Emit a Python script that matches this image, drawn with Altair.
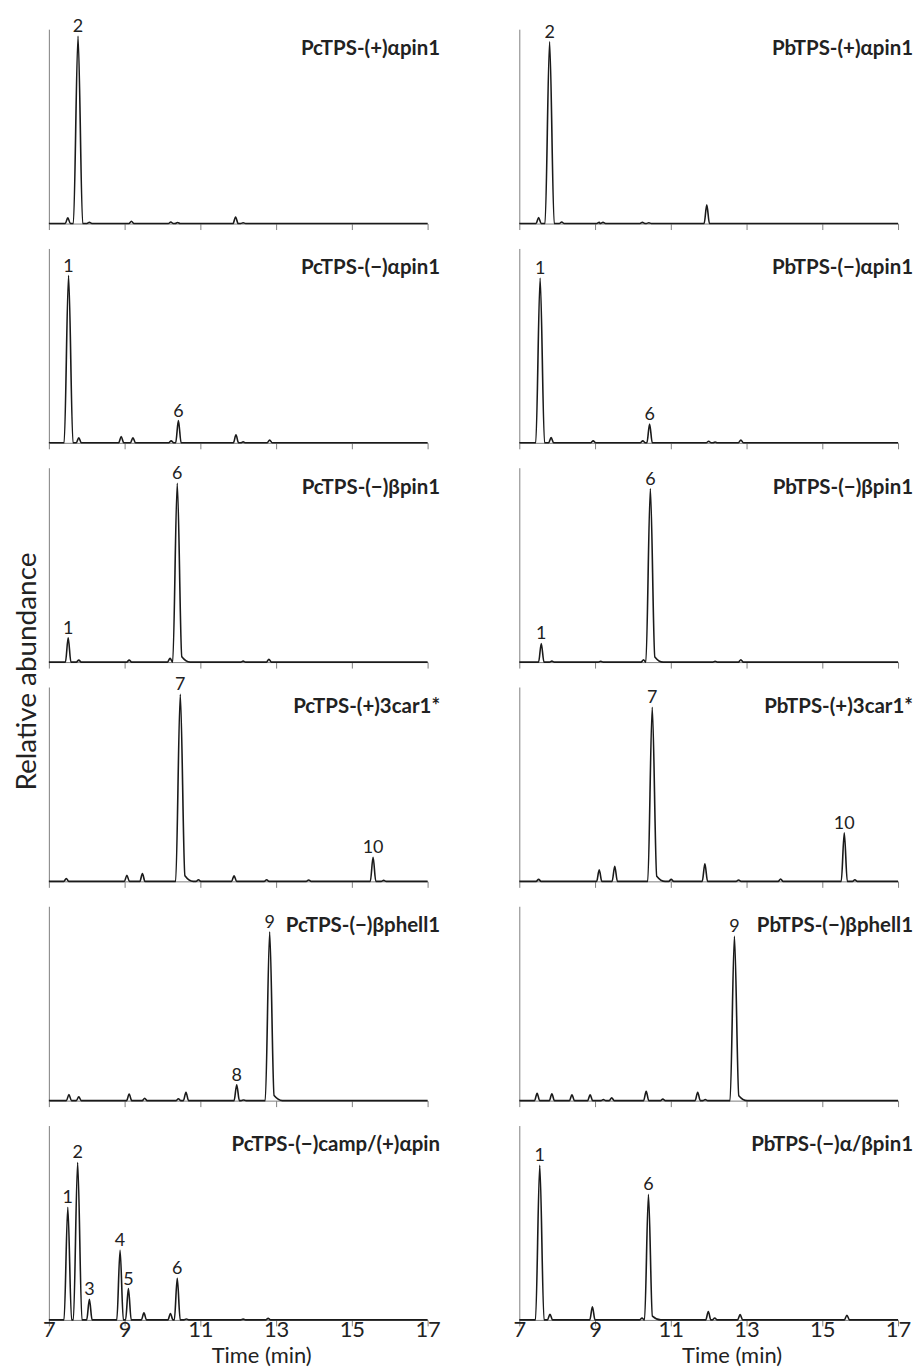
import altair as alt
import pandas as pd

# ---------------- data ----------------
PANEL_NAMES = [
    "PcTPS-(+)αpin1", "PbTPS-(+)αpin1",
    "PcTPS-(−)αpin1", "PbTPS-(−)αpin1",
    "PcTPS-(−)βpin1", "PbTPS-(−)βpin1",
    "PcTPS-(+)3car1*", "PbTPS-(+)3car1*",
    "PcTPS-(−)βphell1", "PbTPS-(−)βphell1",
    "PcTPS-(−)camp/(+)αpin", "PbTPS-(−)α/βpin1",
]

# retention time (min), relative height, peak label
PC_PLUS_APIN_T = [7.50, 7.77, 8.07, 9.18, 10.22, 10.40, 11.93, 12.13]
PC_PLUS_APIN_H = [0.030, 0.964, 0.006, 0.012, 0.008, 0.005, 0.034, 0.004]
PC_PLUS_APIN_L = ["", "2", "", "", "", "", "", ""]

PB_PLUS_APIN_T = [7.51, 7.80, 8.12, 9.11, 9.21, 10.25, 10.42, 11.95]
PB_PLUS_APIN_H = [0.031, 0.935, 0.008, 0.006, 0.006, 0.006, 0.004, 0.096]
PB_PLUS_APIN_L = ["", "2", "", "", "", "", "", ""]

PC_MINUS_APIN_T = [7.52, 7.79, 8.91, 9.22, 10.23, 10.42, 11.94, 12.13, 12.83]
PC_MINUS_APIN_H = [0.860, 0.026, 0.032, 0.026, 0.010, 0.114, 0.041, 0.005, 0.014]
PC_MINUS_APIN_L = ["1", "", "", "", "", "6", "", "", ""]

PB_MINUS_APIN_T = [7.55, 7.84, 8.95, 10.26, 10.44, 12.00, 12.17, 12.85]
PB_MINUS_APIN_H = [0.847, 0.027, 0.010, 0.010, 0.097, 0.008, 0.004, 0.014]
PB_MINUS_APIN_L = ["1", "", "", "", "6", "", "", ""]

PC_MINUS_BPIN_T = [7.51, 7.79, 9.12, 10.20, 10.39, 12.13, 12.81]
PC_MINUS_BPIN_H = [0.125, 0.010, 0.010, 0.020, 0.920, 0.005, 0.014]
PC_MINUS_BPIN_L = ["1", "", "", "", "6", "", ""]

PB_MINUS_BPIN_T = [7.58, 7.86, 9.15, 10.28, 10.46, 12.17, 12.85]
PB_MINUS_BPIN_H = [0.096, 0.005, 0.004, 0.012, 0.892, 0.004, 0.012]
PB_MINUS_BPIN_L = ["1", "", "", "", "6", "", ""]

PC_3CAR_T = [7.46, 9.06, 9.47, 10.47, 10.95, 11.89, 12.75, 13.86, 15.56, 15.84]
PC_3CAR_H = [0.014, 0.031, 0.040, 0.962, 0.008, 0.029, 0.008, 0.007, 0.124, 0.005]
PC_3CAR_L = ["", "", "", "7", "", "", "", "", "10", ""]

PB_3CAR_T = [7.51, 9.11, 9.52, 10.51, 11.01, 11.90, 12.79, 13.90, 15.58, 15.86]
PB_3CAR_H = [0.010, 0.060, 0.078, 0.896, 0.010, 0.090, 0.007, 0.012, 0.250, 0.008]
PB_3CAR_L = ["", "", "", "7", "", "", "", "", "10", ""]

PC_BPHELL_T = [7.53, 7.79, 9.12, 9.53, 10.42, 10.62, 11.96, 12.14, 12.83]
PC_BPHELL_H = [0.031, 0.020, 0.034, 0.012, 0.010, 0.043, 0.082, 0.003, 0.868]
PC_BPHELL_L = ["", "", "", "", "", "", "8", "", "9"]

PB_BPHELL_T = [7.47, 7.86, 8.39, 8.87, 9.22, 9.44, 10.35, 10.79, 11.71, 11.91, 12.68]
PB_BPHELL_H = [0.038, 0.035, 0.030, 0.030, 0.005, 0.014, 0.048, 0.008, 0.043, 0.005, 0.845]
PB_BPHELL_L = ["", "", "", "", "", "", "", "", "", "", "9"]

PC_CAMP_T = [7.50, 7.76, 8.07, 8.88, 9.10, 9.51, 10.21, 10.39, 10.63, 12.13, 12.79]
PC_CAMP_H = [0.580, 0.810, 0.106, 0.358, 0.161, 0.036, 0.033, 0.214, 0.005, 0.004, 0.008]
PC_CAMP_L = ["1", "2", "3", "4", "5", "", "", "6", "", "", ""]

PB_ABPIN_T = [7.54, 7.81, 8.93, 10.24, 10.41, 11.99, 12.16, 12.83, 15.65]
PB_ABPIN_H = [0.795, 0.029, 0.068, 0.010, 0.646, 0.043, 0.010, 0.027, 0.024]
PB_ABPIN_L = ["1", "", "", "", "6", "", "", "", ""]

TICKS = [7, 9, 11, 13, 15, 17]
X_MIN, X_MAX = 7.0, 17.0

SERIES = [
    (PC_PLUS_APIN_T, PC_PLUS_APIN_H, PC_PLUS_APIN_L),
    (PB_PLUS_APIN_T, PB_PLUS_APIN_H, PB_PLUS_APIN_L),
    (PC_MINUS_APIN_T, PC_MINUS_APIN_H, PC_MINUS_APIN_L),
    (PB_MINUS_APIN_T, PB_MINUS_APIN_H, PB_MINUS_APIN_L),
    (PC_MINUS_BPIN_T, PC_MINUS_BPIN_H, PC_MINUS_BPIN_L),
    (PB_MINUS_BPIN_T, PB_MINUS_BPIN_H, PB_MINUS_BPIN_L),
    (PC_3CAR_T, PC_3CAR_H, PC_3CAR_L),
    (PB_3CAR_T, PB_3CAR_H, PB_3CAR_L),
    (PC_BPHELL_T, PC_BPHELL_H, PC_BPHELL_L),
    (PB_BPHELL_T, PB_BPHELL_H, PB_BPHELL_L),
    (PC_CAMP_T, PC_CAMP_H, PC_CAMP_L),
    (PB_ABPIN_T, PB_ABPIN_H, PB_ABPIN_L),
]

# ---------------- layout / style ----------------
W, H = 380, 195
FONT = "Lato"
AX = "#808080"
INK = "#1a1a1a"
TXT = "#222222"


def half_width(h):
    return 0.065 + 0.06 * h


def trace_vertices(times, heights):
    """Polyline vertices of the chromatogram: baseline, then each peak's foot / apex / foot."""
    pts = [(X_MIN, 0.0)]
    n = len(times)
    for i, (t, h) in enumerate(zip(times, heights)):
        hw = half_width(h)
        nxt = times[i + 1] - half_width(heights[i + 1]) if i + 1 < n else X_MAX
        prev_end = pts[-1][0]
        pts.append((max(t - hw, prev_end + 0.005), 0.0))
        pts.append((t, h))
        if h > 0.3 and t + hw + 0.22 < nxt:
            pts.append((t + hw, 0.03 * h))
            pts.append((t + hw + 0.22, 0.0))
        else:
            pts.append((min(t + hw, nxt - 0.005), 0.0))
    pts.append((X_MAX, 0.0))
    return pd.DataFrame(pts, columns=["t", "y"])


def panel(idx):
    times, heights, labels = SERIES[idx]
    row, col = divmod(idx, 2)
    bottom = row == 5

    x_axis_kw = dict(values=TICKS, tickSize=6, grid=False, labelFlush=False,
                     domainColor=AX, tickColor=AX)
    if bottom:
        x_axis_kw.update(labels=True, labelPadding=-6, labelFontSize=22, labelFont=FONT,
                         labelColor=TXT, title="Time (min)", titleX=213, titleY=26,
                         titleBaseline="top", titleFontSize=22, titleFont=FONT,
                         titleFontWeight="normal", titleColor=TXT)
        x_axis = alt.Axis(**x_axis_kw)
    else:
        x_axis = alt.Axis(labels=False, title=None, **x_axis_kw)

    y_axis_kw = dict(labels=False, ticks=False, grid=False, domainColor=AX)
    if idx == 4:
        y_axis = alt.Axis(title="Relative abundance", titleX=-13, titleY=204, titleAngle=270,
                          titleBaseline="alphabetic", titleAlign="center", titleFontSize=28,
                          titleFont=FONT, titleFontWeight="normal", titleColor=TXT,
                          **y_axis_kw)
    else:
        y_axis = alt.Axis(title=None, **y_axis_kw)

    xs = alt.Scale(domain=[X_MIN, X_MAX], nice=False, zero=False)
    ys = alt.Scale(domain=[0, 1], nice=False)

    line = alt.Chart(trace_vertices(times, heights)).mark_line(
        color=INK, strokeWidth=1.6, interpolate="monotone"
    ).encode(
        x=alt.X("t:Q", scale=xs, axis=x_axis),
        y=alt.Y("y:Q", scale=ys, axis=y_axis),
    )

    lab_df = pd.DataFrame({"t": times, "h": heights, "lab": labels})
    lab_df = lab_df[lab_df["lab"] != ""]
    peak_labels = alt.Chart(lab_df).mark_text(
        baseline="alphabetic", dy=-4, fontSize=18, font=FONT, color=TXT
    ).encode(
        x=alt.X("t:Q", scale=xs),
        y=alt.Y("h:Q", scale=ys),
        text="lab:N",
    )

    name = alt.Chart(pd.DataFrame({"name": [PANEL_NAMES[idx]]})).mark_text(
        align="right", baseline="middle", fontSize=20.5, fontWeight="bold",
        font=FONT, color=TXT
    ).encode(
        x=alt.value(W + (12.5 if col == 0 else 15)),
        y=alt.value(20),
        text="name:N",
    )

    return alt.layer(line, peak_labels, name).properties(width=W, height=H)


chart = alt.concat(
    *[panel(i) for i in range(12)],
    columns=2,
    spacing={"row": 25, "column": 92},
    bounds="flush",
).properties(
    padding={"left": 5, "top": 8, "right": 0, "bottom": 0}
).configure_view(
    stroke=None
)

chart.save("out.html", embed_options={"renderer": "svg", "actions": False})
